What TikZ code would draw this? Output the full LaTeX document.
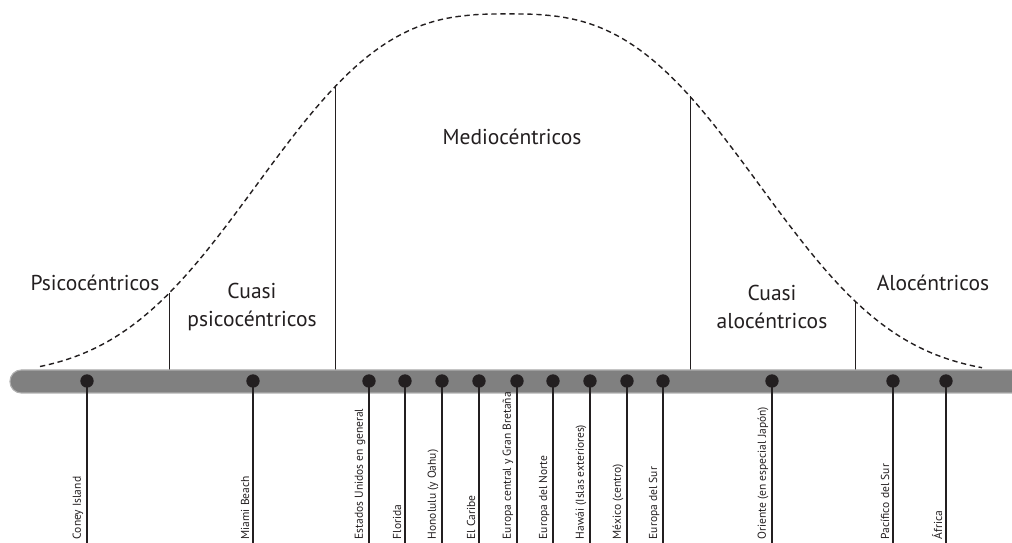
\documentclass[tikz,border=0pt]{standalone}
\usepackage{fontspec}
\setmainfont{PT Sans}
\definecolor{barfill}{RGB}{128,128,128}
\definecolor{bardraw}{RGB}{175,175,175}
\definecolor{ink}{RGB}{35,31,32}
\begin{document}
\begin{tikzpicture}[x=0.025cm,y=-0.025cm,
  declare function={bell(\x)=376-362*exp(-(pow(abs(\x-508)/295+0.0001,2.8)));},
  dot/.style={circle,fill=ink,inner sep=0pt,minimum size=9.5pt},
  stem/.style={draw=ink,line width=0.9pt},
  place/.style={rotate=90,anchor=south west,inner sep=1pt,font=\fontsize{8.2}{9}\selectfont,text=ink},
  group/.style={align=center,font=\fontsize{15.3}{20}\selectfont,text=ink}]
\useasboundingbox (0,0) rectangle (1012,543);
% curve
\draw[ink,line width=1pt,dash pattern=on 3.8pt off 2.6pt]
  plot[domain=40:982,samples=120,smooth] (\x,{bell(\x)});
% dividers
\foreach \k/\px in {1/169,2/335,3/690,4/855}{
  \coordinate (top\k) at (\px,{bell(\px)});
  \coordinate (low\k) at (\px,370);
  \draw[ink,line width=0.7pt] (top\k) -- (low\k);
}
% bar
\begin{scope}
\clip (0,0) rectangle (1012,543);
\fill[barfill,draw=bardraw,line width=0.8pt,rounded corners=8pt] (10,370) rectangle (1040,393);
\end{scope}
% groups
\node[group] (psico) at (95,283) {Psicocéntricos};
\node[group] (cpsico) at (252,307) {Cuasi\\psicocéntricos};
\node[group] (medio) at (512,137) {Mediocéntricos};
\node[group] (calo) at (772,307) {Cuasi\\alocéntricos};
\node[group] (alo) at (933,283) {Alocéntricos};
% destinations
\foreach \n/\px/\txt in {1/87/Coney Island,2/253/Miami Beach,3/369/Estados Unidos en general,
  4/405/Florida,5/442/Honolulu (y Oahu),6/479/El Caribe,7/517/Europa central y Gran Bretaña,
  8/553/Europa del Norte,9/590/Hawái (Islas exteriores),10/627/México (centro),
  11/663/Europa del Sur,12/772/Oriente (en especial Japón),13/893/Pacífico del Sur,14/946/África}{
  \node[dot] (d\n) at (\px,381) {};
  \coordinate (e\n) at (\px,543);
  \draw[stem] (d\n.center) -- (e\n);
  \node[place] (t\n) at (\px-2,541) {\txt};
}
\end{tikzpicture}
\end{document}
